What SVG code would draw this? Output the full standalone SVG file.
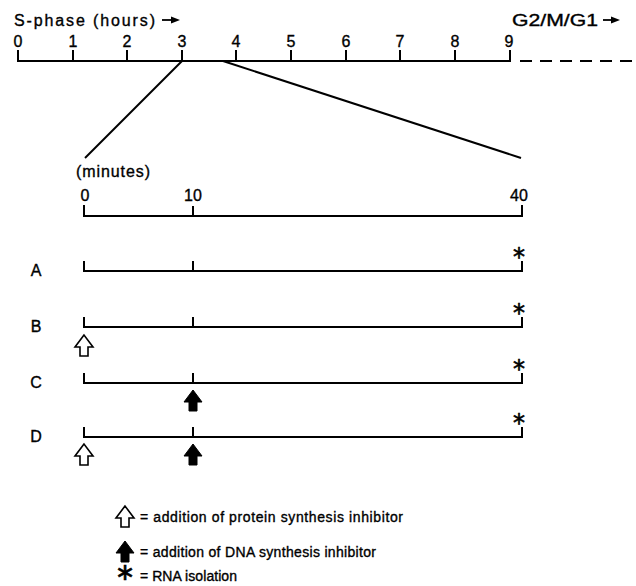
<svg xmlns="http://www.w3.org/2000/svg" width="636" height="586" viewBox="0 0 636 586">
<style>
.t{font-family:"Liberation Sans",Arial,sans-serif;font-size:16px;fill:#000;stroke:#000;stroke-width:0.35}
.c{text-anchor:middle}
.ax{fill:none;stroke:#000;stroke-width:2}
.ast{font-family:"DejaVu Sans",sans-serif;font-size:24px;text-anchor:middle;fill:#000;stroke:#000;stroke-width:0.6}
.open{fill:#fff;stroke:#000;stroke-width:1.6;stroke-linejoin:miter}
.fill{fill:#000;stroke:#000;stroke-width:1}
.lg{font-size:14px}
</style>
<defs>
<path id="arrowShape" d="M0,0 L-9,12 L-4,12 L-4,21 L4,21 L4,12 L9,12 Z"/>
</defs>
<rect width="636" height="586" fill="#fff"/>

<g id="hours-axis">
<text class="t" x="14" y="26" textLength="141" lengthAdjust="spacing">S-phase (hours)</text>
<path d="M162,20 H172" stroke="#000" stroke-width="1.8"/>
<path d="M171,16.5 L180,20 L171,23.5 Z" fill="#000"/>
<text class="t" x="512" y="26" textLength="86" lengthAdjust="spacingAndGlyphs">G2/M/G1</text>
<path d="M603,20 H612" stroke="#000" stroke-width="1.8"/>
<path d="M611,16.5 L620,20 L611,23.5 Z" fill="#000"/>
<path class="ax" d="M18,50 V61 H510 V50 M73,50 V61 M127,50 V61 M182,50 V61 M236,50 V61 M291,50 V61 M346,50 V61 M400,50 V61 M455,50 V61"/>
<path d="M520,61 H636" stroke="#000" stroke-width="2" stroke-dasharray="12 8"/>
<text class="t c" x="18" y="47">0</text>
<text class="t c" x="73" y="47">1</text>
<text class="t c" x="127" y="47">2</text>
<text class="t c" x="182" y="47">3</text>
<text class="t c" x="236" y="47">4</text>
<text class="t c" x="291" y="47">5</text>
<text class="t c" x="346" y="47">6</text>
<text class="t c" x="400" y="47">7</text>
<text class="t c" x="455" y="47">8</text>
<text class="t c" x="509" y="47">9</text>
</g>

<g id="connectors">
<path class="ax" d="M182,61 L85,158"/>
<path class="ax" d="M223,61 L521,158"/>
</g>

<g id="minutes-axis">
<text class="t" x="76" y="177" textLength="74" lengthAdjust="spacing">(minutes)</text>
<text class="t c" x="85" y="201">0</text>
<text class="t c" x="193" y="201">10</text>
<text class="t c" x="519" y="201">40</text>
<path class="ax" d="M84,205 V216 H522 V205 M193,206 V216"/>
</g>

<g id="row-A">
<text class="t c" x="36" y="276">A</text>
<path class="ax" d="M84,261 V271 H522 V261 M193,261 V271"/>
<text class="ast" x="519" y="265">*</text>
</g>

<g id="row-B">
<text class="t c" x="36" y="332">B</text>
<path class="ax" d="M84,317 V327 H522 V317 M193,317 V327"/>
<text class="ast" x="519" y="321">*</text>
<use href="#arrowShape" class="open" x="84" y="335"/>
</g>

<g id="row-C">
<text class="t c" x="36" y="388">C</text>
<path class="ax" d="M84,373 V383 H522 V373 M193,373 V383"/>
<text class="ast" x="519" y="377">*</text>
<use href="#arrowShape" class="fill" x="193" y="390"/>
</g>

<g id="row-D">
<text class="t c" x="36" y="442">D</text>
<path class="ax" d="M84,427 V437 H522 V427 M193,427 V437"/>
<text class="ast" x="519" y="431">*</text>
<use href="#arrowShape" class="open" x="84" y="444"/>
<use href="#arrowShape" class="fill" x="193" y="444"/>
</g>

<g id="legend">
<use href="#arrowShape" class="open" x="125" y="506"/>
<text class="t lg" x="140" y="522" textLength="263" lengthAdjust="spacing">= addition of protein synthesis inhibitor</text>
<use href="#arrowShape" class="fill" x="125" y="541"/>
<text class="t lg" x="140" y="557" textLength="236" lengthAdjust="spacing">= addition of DNA synthesis inhibitor</text>
<text class="ast" x="125" y="580" font-size="17">∗</text>
<text class="t lg" x="140" y="581" textLength="97" lengthAdjust="spacing">= RNA isolation</text>
</g>
</svg>
